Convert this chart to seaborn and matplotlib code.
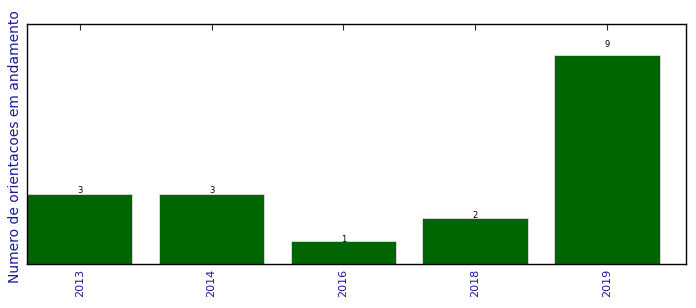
import matplotlib
matplotlib.use("Agg")
import matplotlib.pyplot as plt
import seaborn as sns
import pandas as pd

years = ["2013", "2014", "2016", "2018", "2019"]
counts = [3, 3, 1, 2, 9]

sns.set_style("white")
plt.rcParams['font.family'] = ['DejaVu Sans']

df = pd.DataFrame({"ano": years, "n": counts})

fig = plt.figure(figsize=(6.96, 3.08), dpi=100)
ax = fig.add_axes([27/696, 44/308, 659/696, 240/308])
sns.barplot(data=df, x="ano", y="n", color="#006400", saturation=1, width=0.8,
            edgecolor="#e0e0e0", linewidth=0.6, ax=ax)

for i, v in enumerate(counts):
    ax.text(i, 1.05 * v, str(v), ha="center", va="center", fontsize=6, color="black")

ax.set_xlim(-0.4, 4.6)
ax.set_ylim(0, max(counts) * 1.15)
ax.set_yticks([])
ax.set_xlabel("")
ax.set_ylabel("Numero de orientacoes em andamento", color="#1a1a9a", fontsize=10)
ax.yaxis.set_label_coords(-0.008, 0.49)
ax.tick_params(axis="x", direction="in", top=True, bottom=True, length=4,
               labelsize=8, labelcolor="#1a1a9a", rotation=90, width=0.8)
for s in ax.spines.values():
    s.set_visible(True)
    s.set_color("black")
    s.set_linewidth(1)

fig.savefig("out.png", dpi=100, facecolor="white")
